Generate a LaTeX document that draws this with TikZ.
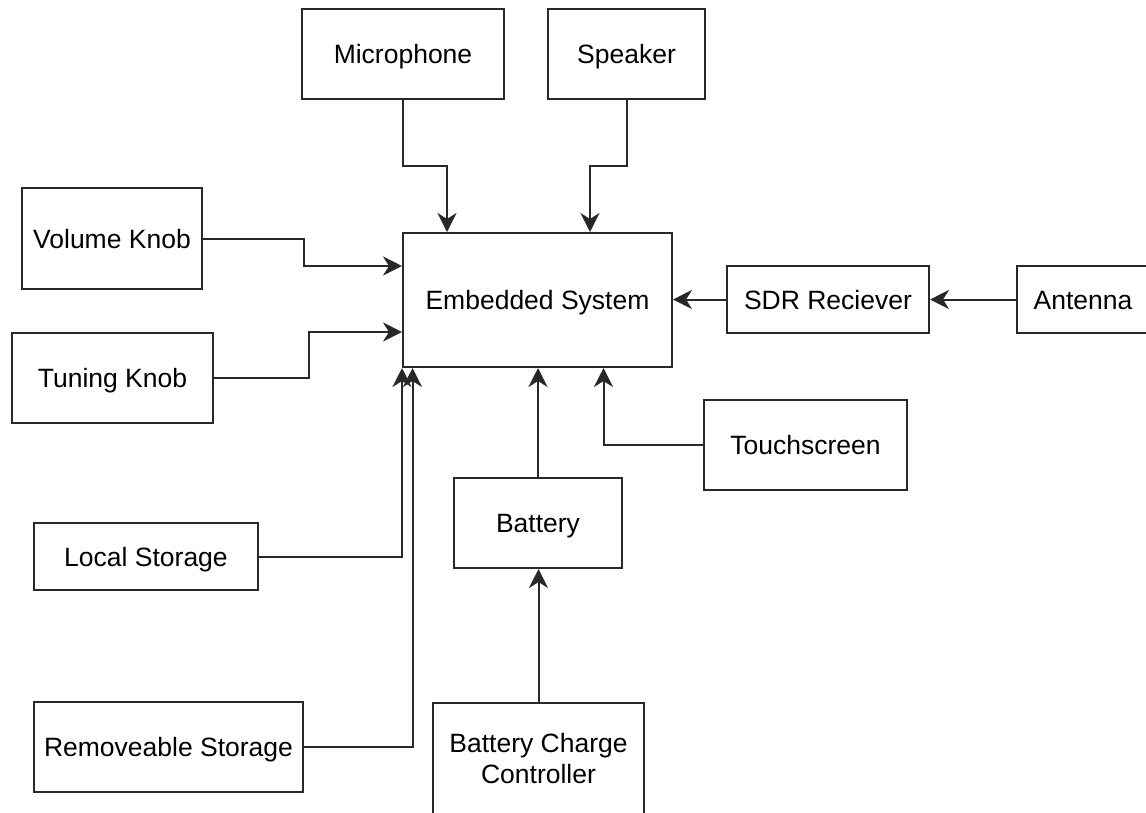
\documentclass[tikz,border=0pt]{standalone}
\usepackage{fontspec}
\setmainfont{Liberation Sans}
\usetikzlibrary{arrows.meta,calc}
\definecolor{ln}{RGB}{40,40,40}
\begin{document}
\begin{tikzpicture}[x=1pt,y=-1pt,
  box/.style={draw=ln,line width=2pt,fill=white,inner sep=0pt,align=center,
    font=\fontsize{26.5}{31}\selectfont},
  one/.style={box,text height=19pt,text depth=0pt},
  arr/.style={draw=ln,line width=2pt,-{Stealth[length=19pt,width=19pt,inset=6pt]}}]
\useasboundingbox (0,0) rectangle (1146,812);
\node[one,minimum width=202pt,minimum height=90pt] (mic) at (403,54) {Microphone};
\node[one,minimum width=157pt,minimum height=90pt] (spk) at (626.5,54) {Speaker};
\node[one,minimum width=180pt,minimum height=101pt] (vol) at (112,238.5) {Volume Knob};
\node[one,minimum width=201pt,minimum height=90pt] (tun) at (112.5,378) {Tuning Knob};
\node[one,minimum width=269pt,minimum height=134pt] (es) at (537.5,300) {Embedded System};
\node[one,minimum width=202pt,minimum height=67pt] (sdr) at (828,299.5) {SDR Reciever};
\node[one,minimum width=132pt,minimum height=67pt] (ant) at (1083,299.5) {Antenna};
\node[one,minimum width=203pt,minimum height=90pt] (touch) at (805.5,445) {Touchscreen};
\node[one,minimum width=168pt,minimum height=90pt] (bat) at (538,523) {Battery};
\node[one,minimum width=224pt,minimum height=67pt] (loc) at (146,556.5) {Local Storage};
\node[one,minimum width=269pt,minimum height=90pt] (rem) at (168.5,747) {Removeable Storage};
\node[box,minimum width=211pt,minimum height=112pt] (bcc) at (538.5,759) {Battery Charge\\Controller};

\draw[arr] (mic.south) -- ++(0,66) -| ([xshift=45pt]es.north west);
\draw[arr] (spk.south) -- ++(0,66) -| ([xshift=188pt]es.north west);
\draw[arr] (vol.east) -- ++(101,0) |- ([yshift=-34pt]es.north west);
\draw[arr] (tun.east) -- ++(95,0) |- ([yshift=-100pt]es.north west);
\draw[arr] (loc.east) -| (es.south west);
\draw[arr] (rem.east) -| ([xshift=10.5pt]es.south west);
\draw[arr] (bat.north) -- (bat.north |- es.south);
\draw[arr] (touch.west) -| ([xshift=66pt]es.south);
\draw[arr] (bcc.north) -- (bcc.north |- bat.south);
\draw[arr] (sdr.west) -- (sdr.west -| es.east);
\draw[arr] (ant.west) -- (ant.west -| sdr.east);
\end{tikzpicture}
\end{document}
